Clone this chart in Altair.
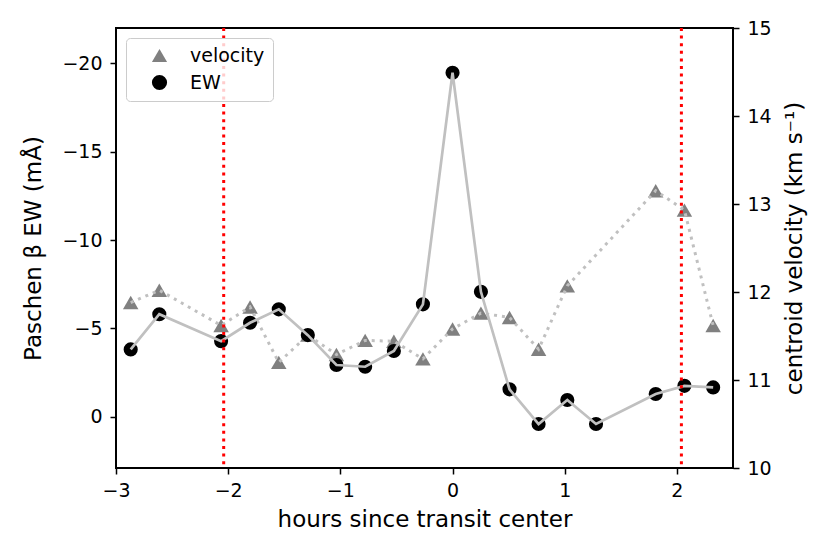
import altair as alt
import pandas as pd

# ---- data ----
ew_time = [-2.869, -2.614, -2.063, -1.805, -1.549, -1.290, -1.035, -0.779, -0.523,
           -0.264, 0.0, 0.253, 0.508, 0.767, 1.023, 1.279, 1.811, 2.067, 2.323]
ew_values = [-3.81, -5.80, -4.28, -5.32, -6.08, -4.62, -2.93, -2.83, -3.72,
             -6.36, -19.47, -7.07, -1.55, 0.41, -0.95, 0.41, -1.29, -1.75, -1.66]

vel_time = [-2.869, -2.614, -2.063, -1.805, -1.549, -1.290, -1.035, -0.779, -0.523,
            -0.264, 0.0, 0.253, 0.508, 0.767, 1.023, 1.811, 2.067, 2.323]
vel_values = [11.88, 12.02, 11.62, 11.83, 11.20, 11.51, 11.29, 11.45, 11.44,
              11.24, 11.58, 11.76, 11.71, 11.35, 12.07, 13.15, 12.93, 11.62]

transit_edges = [-2.04, 2.04]

x_ticks = [-3, -2, -1, 0, 1, 2]
ew_ticks = [-20, -15, -10, -5, 0]
vel_ticks = [10, 11, 12, 13, 14, 15]
series_names = ["velocity", "EW"]
series_colors = ["#808080", "#000000"]
series_shapes = ["triangle-up", "circle"]

ew_df = pd.DataFrame({"time": ew_time, "ew": ew_values, "series": "EW"})
vel_df = pd.DataFrame({"time": vel_time, "vel": vel_values, "series": "velocity"})
edge_df = pd.DataFrame({"time": transit_edges})

FONT = "DejaVu Sans"

x_enc = alt.X(
    "time:Q",
    scale=alt.Scale(domain=[-3, 2.5], nice=False, zero=False),
    axis=alt.Axis(values=x_ticks, title="hours since transit center", format="d",
                  labelFlush=False, labelPadding=7, titlePadding=8),
)

ew_y = alt.Y(
    "ew:Q",
    scale=alt.Scale(domain=[-22, 2.9], reverse=True, nice=False, zero=False),
    axis=alt.Axis(orient="left", values=ew_ticks, title="Paschen β EW (mÅ)", format="d",
                  labelFlush=False, labelPadding=8, titlePadding=16),
)

vel_y = alt.Y(
    "vel:Q",
    scale=alt.Scale(domain=[10, 15], nice=False, zero=False),
    axis=alt.Axis(orient="right", values=vel_ticks, format="d", labelFlush=False,
                  title="centroid velocity (km s⁻¹)",
                  titleAngle=270, titleBaseline="top",
                  labelPadding=8, titlePadding=12),
)

legend = alt.Legend(
    title=None, orient="top-left", offset=10,
    labelFontSize=19, labelFont=FONT, labelColor="black",
    symbolSize=230, symbolOpacity=1, symbolStrokeWidth=0,
    padding=8, rowPadding=7, labelOffset=21, symbolOffset=16,
    strokeColor="#cccccc", fillColor="rgba(255,255,255,0.8)", cornerRadius=4,
)

color_enc = alt.Color("series:N",
                      scale=alt.Scale(domain=series_names, range=series_colors),
                      legend=legend)
shape_enc = alt.Shape("series:N",
                      scale=alt.Scale(domain=series_names, range=series_shapes),
                      legend=legend)

tri = alt.Chart(vel_df).mark_point(filled=True, size=240, opacity=1, strokeWidth=0).encode(
    x=x_enc, y=vel_y, color=color_enc, shape=shape_enc)
vline = alt.Chart(vel_df).mark_line(color="#c0c0c0", strokeWidth=3, strokeDash=[3, 5]).encode(
    x=x_enc, y=vel_y)

circles = alt.Chart(ew_df).mark_point(filled=True, size=200, opacity=1, strokeWidth=0).encode(
    x=x_enc, y=ew_y, color=color_enc, shape=shape_enc)
ewline = alt.Chart(ew_df).mark_line(color="#c0c0c0", strokeWidth=2.7).encode(
    x=x_enc, y=ew_y)

rules = alt.Chart(edge_df).mark_rule(color="#ff0000", strokeWidth=3, strokeDash=[3, 4.6]).encode(
    x=alt.X("time:Q"))

chart = (
    alt.layer(alt.layer(tri, vline), alt.layer(circles, ewline), rules)
    .resolve_scale(y="independent")
    .properties(
        width=617, height=440,
        autosize=alt.AutoSizeParams(type="none"),
        padding={"left": 108, "top": 20, "right": 89, "bottom": 78},
    )
    .configure_view(stroke="black", strokeWidth=2)
    .configure_axis(
        domain=False, grid=False,
        tickColor="black", tickWidth=1.5, tickSize=6,
        labelFont=FONT, labelFontSize=19, labelColor="black",
        titleFont=FONT, titleFontSize=23, titleFontWeight="normal", titleColor="black",
    )
)

chart.save("out.html", embed_options={"renderer": "svg", "actions": False})
